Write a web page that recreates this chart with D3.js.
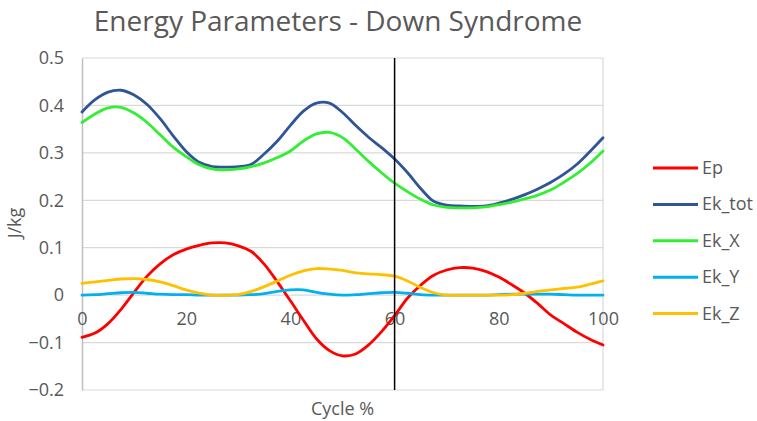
<!DOCTYPE html>
<html>
<head>
<meta charset="utf-8">
<script src="https://cdn.jsdelivr.net/npm/d3@7"></script>
<style>
  body { margin: 0; background: #fff; }
  text { font-family: "Open Sans", "Liberation Sans", sans-serif; fill: #595959; }
</style>
</head>
<body>
<main></main>
<script>
const cycle = [0, 2.5, 5, 7.5, 10, 12.5, 15, 17.5, 20, 22.5, 25, 27.5, 30, 32.5, 35, 37.5, 40, 42.5, 45, 47.5, 50,
  52.5, 55, 57.5, 60, 62.5, 65, 67.5, 70, 72.5, 75, 77.5, 80, 82.5, 85, 87.5, 90, 92.5, 95, 97.5, 100];

const ep = [-0.089, -0.080, -0.060, -0.030, 0.006, 0.040, 0.066, 0.085, 0.097, 0.105, 0.110, 0.110, 0.104, 0.092, 0.065, 0.028,
  -0.012, -0.053, -0.092, -0.117, -0.128, -0.124, -0.105, -0.077, -0.043, -0.006, 0.021, 0.042, 0.053, 0.058, 0.057,
  0.050, 0.038, 0.022, 0.004, -0.018, -0.042, -0.060, -0.078, -0.093, -0.105];
const ekTot = [0.386, 0.412, 0.428, 0.432, 0.422, 0.402, 0.372, 0.336, 0.303, 0.280, 0.271, 0.270, 0.271, 0.276, 0.298, 0.325,
  0.358, 0.388, 0.405, 0.405, 0.385, 0.358, 0.333, 0.311, 0.287, 0.258, 0.225, 0.198, 0.190, 0.188, 0.187,
  0.188, 0.194, 0.202, 0.212, 0.224, 0.238, 0.255, 0.276, 0.303, 0.332];
const ekX = [0.364, 0.382, 0.395, 0.396, 0.384, 0.364, 0.338, 0.312, 0.292, 0.275, 0.266, 0.264, 0.266, 0.271, 0.279, 0.290,
  0.304, 0.325, 0.340, 0.343, 0.332, 0.308, 0.282, 0.258, 0.236, 0.218, 0.202, 0.190, 0.185, 0.184, 0.184,
  0.186, 0.191, 0.196, 0.203, 0.211, 0.222, 0.238, 0.256, 0.278, 0.304];
const ekY = [0.000, 0.001, 0.003, 0.005, 0.006, 0.004, 0.002, 0.001, 0.001, 0.000, 0.000, 0.000, 0.000, 0.001, 0.003, 0.008,
  0.011, 0.011, 0.006, 0.002, 0.000, 0.001, 0.003, 0.005, 0.006, 0.004, 0.001, 0.000, 0.000, 0.000, 0.000,
  0.000, 0.001, 0.002, 0.002, 0.002, 0.002, 0.001, 0.000, 0.000, 0.000];
const ekZ = [0.025, 0.028, 0.031, 0.034, 0.035, 0.033, 0.028, 0.020, 0.011, 0.004, 0.000, 0.000, 0.001, 0.008, 0.018, 0.030,
  0.042, 0.051, 0.056, 0.055, 0.052, 0.047, 0.045, 0.043, 0.040, 0.030, 0.016, 0.005, 0.000, 0.000, 0.000,
  0.000, 0.000, 0.001, 0.004, 0.008, 0.011, 0.014, 0.017, 0.023, 0.030];

const seriesNames = ["Ep", "Ek_tot", "Ek_X", "Ek_Y", "Ek_Z"];
const seriesColors = ["#ff0000", "#2f5597", "#33ee33", "#00b0f0", "#ffc000"];
const yTicks = [-0.2, -0.1, 0, 0.1, 0.2, 0.3, 0.4, 0.5];
const xTicks = [0, 20, 40, 60, 80, 100];
const markerCycle = 60;

const w = 757, h = 421;
const plotLeft = 82, plotRight = 603, plotTop = 58, plotBottom = 390;

const svg = d3.select("main").append("svg")
  .attr("width", w)
  .attr("height", h);

const xScale = d3.scaleLinear().domain([0, 100]).range([plotLeft, plotRight]);
const yScale = d3.scaleLinear().domain([-0.2, 0.5]).range([plotBottom, plotTop]);

// grid
svg.append("g")
  .selectAll("line")
  .data(yTicks)
  .enter()
  .append("line")
  .attr("x1", plotLeft).attr("x2", plotRight)
  .attr("y1", d => yScale(d)).attr("y2", d => yScale(d))
  .attr("stroke", "#d9d9d9")
  .attr("stroke-width", 1.2);

svg.append("line")
  .attr("x1", xScale(100)).attr("x2", xScale(100))
  .attr("y1", plotTop).attr("y2", plotBottom)
  .attr("stroke", "#d9d9d9")
  .attr("stroke-width", 1.2);

// y axis
const yAxis = d3.axisLeft(yScale)
  .tickValues(yTicks)
  .tickSize(0)
  .tickPadding(18)
  .tickFormat(d => d === 0 ? "0" : d3.format(".1f")(d));

svg.append("g")
  .attr("transform", "translate(" + plotLeft + ",0)")
  .call(yAxis)
  .call(g => g.select(".domain").attr("stroke", "#bfbfbf").attr("stroke-width", 1.5))
  .call(g => g.selectAll("text").attr("fill", "#595959").style("font-size", "18px")
    .style("font-family", "'Open Sans', sans-serif"));

// x axis at zero
const xAxis = d3.axisBottom(xScale)
  .tickValues(xTicks)
  .tickSize(0)
  .tickPadding(17);

svg.append("g")
  .attr("transform", "translate(0," + yScale(0) + ")")
  .call(xAxis)
  .call(g => g.select(".domain").remove())
  .call(g => g.selectAll("text").attr("fill", "#595959").style("font-size", "18px")
    .style("font-family", "'Open Sans', sans-serif"));

// series
const allSeries = [ep, ekTot, ekX, ekY, ekZ];
const line = d3.line()
  .x((d, i) => xScale(cycle[i]))
  .y(d => yScale(d))
  .curve(d3.curveCatmullRom);

svg.append("g")
  .selectAll("path")
  .data(allSeries)
  .enter()
  .append("path")
  .attr("d", d => line(d))
  .attr("fill", "none")
  .attr("stroke", (d, i) => seriesColors[i])
  .attr("stroke-width", 2.8)
  .attr("stroke-linejoin", "round")
  .attr("stroke-linecap", "round");

// marker line
svg.append("line")
  .attr("x1", xScale(markerCycle)).attr("x2", xScale(markerCycle))
  .attr("y1", plotTop).attr("y2", plotBottom)
  .attr("stroke", "#000")
  .attr("stroke-width", 1.5);

// title and axis labels
svg.append("text")
  .attr("x", 338).attr("y", 31)
  .attr("text-anchor", "middle")
  .style("font-size", "28px")
  .text("Energy Parameters - Down Syndrome");

svg.append("text")
  .attr("transform", "translate(21,223) rotate(-90)")
  .attr("text-anchor", "middle")
  .style("font-size", "18px")
  .text("J/kg");

svg.append("text")
  .attr("x", (plotLeft + plotRight) / 2).attr("y", 415)
  .attr("text-anchor", "middle")
  .style("font-size", "18px")
  .text("Cycle %");

// legend
const legend = svg.append("g")
  .selectAll("g")
  .data(seriesNames)
  .enter()
  .append("g")
  .attr("transform", (d, i) => "translate(653," + (168 + i * 36.4) + ")");

legend.append("line")
  .attr("x1", 0).attr("x2", 45)
  .attr("stroke", (d, i) => seriesColors[i])
  .attr("stroke-width", 3);

legend.append("text")
  .attr("x", 49).attr("y", 6)
  .style("font-size", "18px")
  .text(d => d);
</script>
</body>
</html>
